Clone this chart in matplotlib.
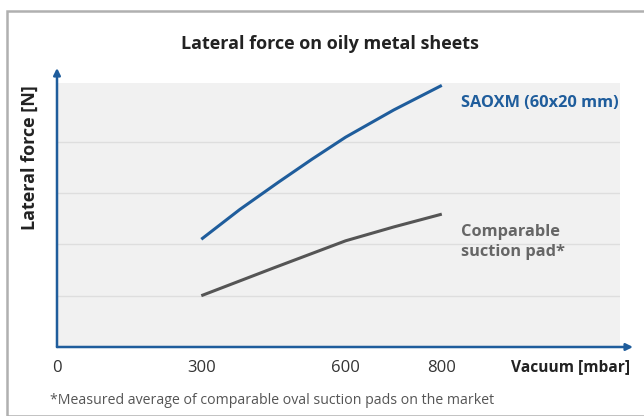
import matplotlib
matplotlib.use('Agg')
import matplotlib.pyplot as plt
from matplotlib.patches import Rectangle

# data
vac_blue = [300, 380, 460, 530, 600, 700, 800]
saoxm = [2.10, 2.68, 3.21, 3.66, 4.09, 4.62, 5.10]
vac_grey = [300, 450, 600, 700, 800]
comparable = [1.00, 1.54, 2.07, 2.34, 2.59]
xticks = [0, 300, 600, 800]
grid_levels = [1, 2, 3, 4]

blue = '#1f5d9c'
grey = '#555555'
txt = '#333333'

plt.rcParams['font.family'] = ['Open Sans', 'DejaVu Sans']

W, H = 644, 416
fig = plt.figure(figsize=(W / 100, H / 100), dpi=100)

# outer frame
fig.patches.append(Rectangle((7 / W, 0), 1, 1 - 11 / H, transform=fig.transFigure,
                             fill=False, edgecolor='#b0b0b0', linewidth=1.8))

x0, x1, y0, y1 = 57, 620, 347, 83
ax = fig.add_axes([x0 / W, 1 - y0 / H, (x1 - x0) / W, (y0 - y1) / H])
ax.set_facecolor('#f1f1f1')
ax.set_xlim(0, (x1 - x0) / 0.481)
ax.set_ylim(0, (y0 - y1) / 51.3)
for s in ax.spines.values():
    s.set_visible(False)
ax.set_yticks([])
ax.set_xticks(xticks)
ax.set_xticklabels([str(t) for t in xticks], fontsize=12, color=txt)
ax.tick_params(axis='x', length=0, pad=9)

for g in grid_levels:
    ax.axhline(g, color='#dedede', linewidth=1.0, zorder=1)

ax.plot(vac_blue, saoxm, color=blue, linewidth=2.2, zorder=3, solid_capstyle='butt')
ax.plot(vac_grey, comparable, color=grey, linewidth=2.2, zorder=3, solid_capstyle='butt')

# axis arrows
ax.annotate('', xy=(0, (y0 - 68) / (y0 - y1)), xytext=(0, 0), xycoords='axes fraction',
            arrowprops=dict(arrowstyle='-|>', color=blue, lw=1.8, mutation_scale=10,
                            shrinkA=0, shrinkB=0), annotation_clip=False)
ax.annotate('', xy=((633 - x0) / (x1 - x0), 0), xytext=(0, 0), xycoords='axes fraction',
            arrowprops=dict(arrowstyle='-|>', color=blue, lw=1.8, mutation_scale=10,
                            shrinkA=0, shrinkB=0), annotation_clip=False)

# series labels
ax.text(840, (y0 - 103) / 51.3, 'SAOXM (60x20 mm)', color=blue, fontsize=11.8,
        fontweight='bold', va='center', ha='left')
ax.text(840, (y0 - 242) / 51.3, 'Comparable\nsuction pad*', color='#666666', fontsize=11.8,
        fontweight='bold', va='center', ha='left', linespacing=1.35)

fig.text(330 / W, 1 - 44 / H, 'Lateral force on oily metal sheets', ha='center', va='center',
         fontsize=13, fontweight='bold', color='#222222')
fig.text(30 / W, 1 - 158 / H, 'Lateral force [N]', rotation=90, ha='center', va='center',
         fontsize=13, fontweight='bold', color='#222222')
fig.text(630 / W, 1 - 367 / H, 'Vacuum [mbar]', ha='right', va='center',
         fontsize=11.2, fontweight='bold', color='#222222')
fig.text(50 / W, 1 - 401 / H, '*Measured average of comparable oval suction pads on the market',
         ha='left', va='center', fontsize=10.2, color='#555555')

fig.savefig('out.png', dpi=100)
